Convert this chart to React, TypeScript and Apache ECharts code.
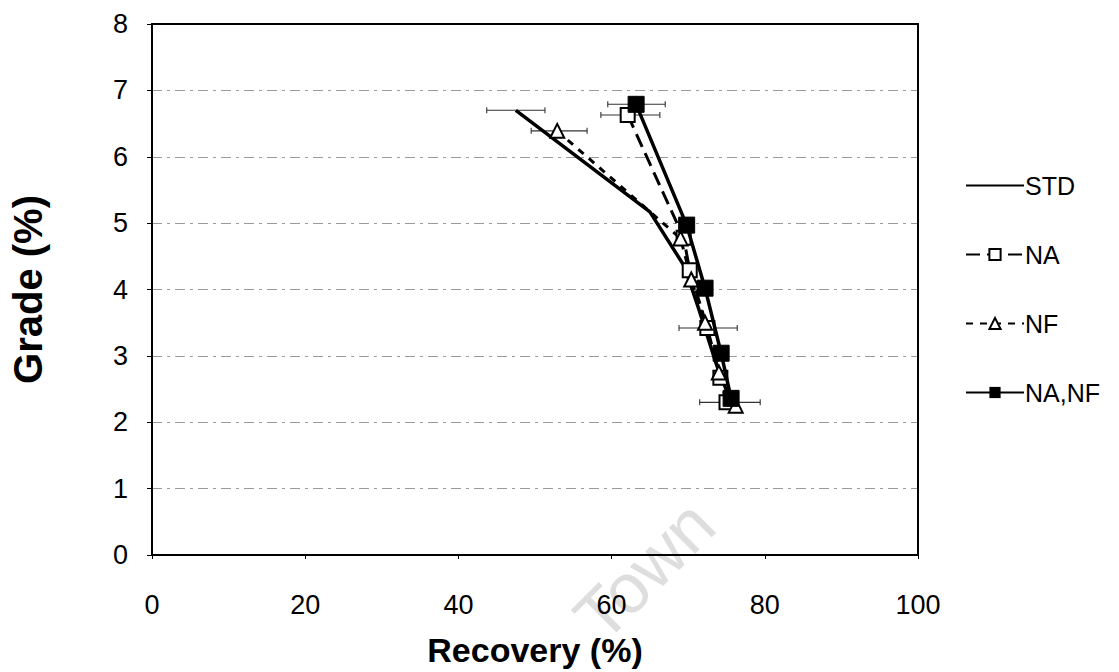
import React, { useEffect, useRef } from "react";
import * as echarts from "echarts";

const xTicks = [0, 20, 40, 60, 80, 100];
const yTicks = [0, 1, 2, 3, 4, 5, 6, 7, 8];

const seriesNames = ["STD", "NA", "NF", "NA,NF"];

const stdData: [number, number][] = [
  [47.5, 6.7], [65.0, 5.17], [69.5, 4.35], [71.4, 3.7], [73.6, 2.9], [75.6, 2.3],
];
const naData: [number, number][] = [
  [62.1, 6.63], [69.4, 4.78], [70.2, 4.29], [72.5, 3.42], [74.2, 2.67], [75.0, 2.3],
];
const nfData: [number, number][] = [
  [52.9, 6.39], [69.0, 4.77], [70.4, 4.15], [72.2, 3.5], [74.0, 2.75], [76.2, 2.25],
];
const nanfData: [number, number][] = [
  [63.2, 6.79], [69.8, 4.97], [72.2, 4.02], [74.3, 3.04], [75.6, 2.36],
];

// horizontal error bars: [low, high, grade]
const errorBars: [number, number, number][] = [
  [43.7, 51.3, 6.7],
  [49.5, 56.8, 6.39],
  [59.5, 67.0, 6.79],
  [58.6, 66.3, 6.63],
  [68.8, 76.4, 3.42],
  [71.5, 79.4, 2.3],
];

export default function App() {
  const ref = useRef<HTMLDivElement>(null);
  useEffect(() => {
    if (!ref.current) return;
    const chart = echarts.init(ref.current, undefined, { renderer: "svg" });
    const font = "Liberation Sans, Arial, sans-serif";
    chart.setOption({
      animation: false,
      backgroundColor: "#ffffff",
      textStyle: { fontFamily: font, color: "#000" },
      grid: {
        left: 152,
        right: 201,
        top: 24,
        bottom: 117,
        show: true,
        borderColor: "#000",
        borderWidth: 2,
        backgroundColor: "transparent",
        outerBoundsMode: "none",
        containLabel: false,
        z: 3,
      },
      legend: {
        orient: "vertical",
        left: 960,
        top: 168,
        itemGap: 44,
        itemWidth: 58,
        itemHeight: 14,
        data: seriesNames,
        textStyle: { fontFamily: font, fontSize: 25, color: "#000", padding: [0, 0, 0, -4] },
      },
      xAxis: {
        type: "value",
        min: 0,
        max: 100,
        interval: 20,
        name: "Recovery (%)",
        nameLocation: "middle",
        nameGap: 78,
        nameTextStyle: { fontFamily: font, fontSize: 34, fontWeight: "bold", color: "#000" },
        axisLine: { lineStyle: { color: "#000", width: 2 } },
        axisTick: { show: true, length: 4, inside: false, lineStyle: { color: "#000" } },
        axisLabel: {
          fontFamily: font,
          fontSize: 27,
          color: "#000",
          margin: 36,
          formatter: (v: number) => (xTicks.includes(v) ? String(v) : ""),
        },
        splitLine: { show: false },
      },
      yAxis: {
        type: "value",
        min: 0,
        max: 8,
        interval: 1,
        name: "Grade (%)",
        nameLocation: "middle",
        nameGap: 104,
        nameTextStyle: { fontFamily: font, fontSize: 40, fontWeight: "bold", color: "#000" },
        axisLine: { lineStyle: { color: "#000", width: 2 } },
        axisTick: { show: true, length: 5, inside: false, lineStyle: { color: "#000" } },
        axisLabel: {
          fontFamily: font,
          fontSize: 27,
          color: "#000",
          margin: 24,
          formatter: (v: number) => (yTicks.includes(v) ? String(v) : ""),
        },
        splitLine: { show: true, lineStyle: { color: "#9a9a9a", width: 1.2, type: [10, 5, 3, 5] } },
      },
      graphic: [
        {
          type: "text",
          left: 562,
          top: 488,
          rotation: Math.PI / 4,
          silent: true,
          z: -1,
          style: {
            text: "Town",
            fontFamily: font,
            fontSize: 70,
            fill: "#dedede",
          },
        },
      ],
      series: [
        {
          type: "custom",
          name: "errors",
          silent: true,
          z: 1,
          encode: { x: [0, 1], y: 2 },
          data: errorBars,
          renderItem: (params: any, api: any) => {
            const lo = api.coord([api.value(0), api.value(2)]);
            const hi = api.coord([api.value(1), api.value(2)]);
            const style = { stroke: "#333", lineWidth: 1.1 };
            return {
              type: "group",
              children: [
                { type: "line", shape: { x1: lo[0], y1: lo[1], x2: hi[0], y2: hi[1] }, style },
                { type: "line", shape: { x1: lo[0], y1: lo[1] - 3, x2: lo[0], y2: lo[1] + 3 }, style },
                { type: "line", shape: { x1: hi[0], y1: hi[1] - 3, x2: hi[0], y2: hi[1] + 3 }, style },
              ],
            };
          },
        },
        {
          type: "line",
          name: "STD",
          data: stdData,
          symbol: "none",
          lineStyle: { color: "#000", width: 3.5 },
          itemStyle: { color: "rgba(0,0,0,0)", borderColor: "rgba(0,0,0,0)", borderWidth: 0 },
          z: 3,
        },
        {
          type: "line",
          name: "NA",
          data: naData,
          symbol: "rect",
          symbolSize: 14,
          lineStyle: { color: "#000", width: 3, type: [14, 7] },
          itemStyle: { color: "#fff", borderColor: "#000", borderWidth: 2 },
          z: 4,
        },
        {
          type: "line",
          name: "NF",
          data: nfData,
          symbol: "triangle",
          symbolSize: 14,
          lineStyle: { color: "#000", width: 3, type: [7, 7] },
          itemStyle: { color: "#fff", borderColor: "#000", borderWidth: 2 },
          z: 4,
        },
        {
          type: "line",
          name: "NA,NF",
          data: nanfData,
          symbol: "rect",
          symbolSize: 16,
          lineStyle: { color: "#000", width: 3.5 },
          itemStyle: { color: "#000", borderColor: "#000" },
          z: 5,
        },
      ],
    });
    return () => chart.dispose();
  }, []);
  return (
    <div
      ref={ref}
      style={{ position: "fixed", left: 0, top: 0, width: 1119, height: 672, background: "#fff" }}
    />
  );
}
